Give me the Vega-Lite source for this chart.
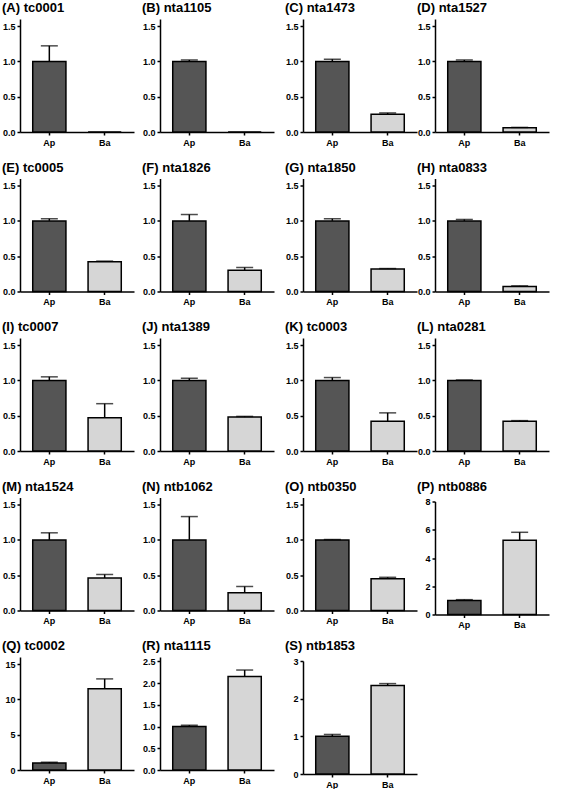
{
  "$schema": "https://vega.github.io/schema/vega-lite/v6.json",
  "padding": {"left": 2, "top": 2, "right": 2, "bottom": 0},
  "background": "white",
  "spacing": 8,
  "config": {
    "view": {"stroke": null},
    "font": "Liberation Sans",
    "title": {"font": "Liberation Sans", "fontSize": 13, "fontWeight": "bold", "anchor": "start", "frame": "bounds", "offset": 0, "color": "black"},
    "axis": {"domainColor": "black", "domainWidth": 1.5, "tickColor": "black", "tickWidth": 1.5, "tickSize": 3, "labelFont": "Liberation Sans", "labelFontWeight": "bold", "labelFontSize": 9, "labelColor": "black", "grid": false, "labelPadding": 2, "labelOverlap": false, "labelFlush": false},
    "axisX": {"labelAngle": 0, "labelPadding": 3},
    "axisY": {"minExtent": 18, "maxExtent": 18, "labelOverlap": false, "tickCount": 20},
    "scale": {"bandPaddingInner": 0.4, "bandPaddingOuter": 0.23},
    "bar": {"stroke": "black", "strokeWidth": 1.5},
    "rule": {"color": "black", "strokeWidth": 1.5},
    "tick": {"color": "black", "thickness": 1.5, "size": 17}
  },
  "hconcat": [
    {"spacing": 14.5, "vconcat": [
      {"title": "(A) tc0001", "width": 114, "height": 113,
       "data": {"values": [{"group": "Ap", "value": 1.0, "upper": 1.22}, {"group": "Ba", "value": 0, "upper": null}]},
       "encoding": {"x": {"field": "group", "type": "nominal", "title": null, "sort": null}},
       "layer": [
         {"mark": "bar", "encoding": {"y": {"field": "value", "type": "quantitative", "title": null, "scale": {"domain": [0, 1.5]}, "axis": {"values": [0, 0.5, 1, 1.5], "format": ".1f", "tickCount": 20}}, "color": {"field": "group", "type": "nominal", "scale": {"domain": ["Ap", "Ba"], "range": ["#555555", "#d6d6d6"]}, "legend": null}}},
         {"transform": [{"filter": "isValid(datum.upper)"}], "mark": "rule", "encoding": {"y": {"field": "value", "type": "quantitative", "title": null}, "y2": {"field": "upper"}}},
         {"transform": [{"filter": "isValid(datum.upper)"}], "mark": "tick", "encoding": {"y": {"field": "upper", "type": "quantitative", "title": null}}}
       ]},
      {"title": "(E) tc0005", "width": 114, "height": 113,
       "data": {"values": [{"group": "Ap", "value": 1.0, "upper": 1.03}, {"group": "Ba", "value": 0.42, "upper": 0.43}]},
       "encoding": {"x": {"field": "group", "type": "nominal", "title": null, "sort": null}},
       "layer": [
         {"mark": "bar", "encoding": {"y": {"field": "value", "type": "quantitative", "title": null, "scale": {"domain": [0, 1.5]}, "axis": {"values": [0, 0.5, 1, 1.5], "format": ".1f", "tickCount": 20}}, "color": {"field": "group", "type": "nominal", "scale": {"domain": ["Ap", "Ba"], "range": ["#555555", "#d6d6d6"]}, "legend": null}}},
         {"transform": [{"filter": "isValid(datum.upper)"}], "mark": "rule", "encoding": {"y": {"field": "value", "type": "quantitative", "title": null}, "y2": {"field": "upper"}}},
         {"transform": [{"filter": "isValid(datum.upper)"}], "mark": "tick", "encoding": {"y": {"field": "upper", "type": "quantitative", "title": null}}}
       ]},
      {"title": "(I) tc0007", "width": 114, "height": 113,
       "data": {"values": [{"group": "Ap", "value": 1.0, "upper": 1.05}, {"group": "Ba", "value": 0.47, "upper": 0.67}]},
       "encoding": {"x": {"field": "group", "type": "nominal", "title": null, "sort": null}},
       "layer": [
         {"mark": "bar", "encoding": {"y": {"field": "value", "type": "quantitative", "title": null, "scale": {"domain": [0, 1.5]}, "axis": {"values": [0, 0.5, 1, 1.5], "format": ".1f", "tickCount": 20}}, "color": {"field": "group", "type": "nominal", "scale": {"domain": ["Ap", "Ba"], "range": ["#555555", "#d6d6d6"]}, "legend": null}}},
         {"transform": [{"filter": "isValid(datum.upper)"}], "mark": "rule", "encoding": {"y": {"field": "value", "type": "quantitative", "title": null}, "y2": {"field": "upper"}}},
         {"transform": [{"filter": "isValid(datum.upper)"}], "mark": "tick", "encoding": {"y": {"field": "upper", "type": "quantitative", "title": null}}}
       ]},
      {"title": "(M) nta1524", "width": 114, "height": 113,
       "data": {"values": [{"group": "Ap", "value": 1.0, "upper": 1.10}, {"group": "Ba", "value": 0.46, "upper": 0.51}]},
       "encoding": {"x": {"field": "group", "type": "nominal", "title": null, "sort": null}},
       "layer": [
         {"mark": "bar", "encoding": {"y": {"field": "value", "type": "quantitative", "title": null, "scale": {"domain": [0, 1.5]}, "axis": {"values": [0, 0.5, 1, 1.5], "format": ".1f", "tickCount": 20}}, "color": {"field": "group", "type": "nominal", "scale": {"domain": ["Ap", "Ba"], "range": ["#555555", "#d6d6d6"]}, "legend": null}}},
         {"transform": [{"filter": "isValid(datum.upper)"}], "mark": "rule", "encoding": {"y": {"field": "value", "type": "quantitative", "title": null}, "y2": {"field": "upper"}}},
         {"transform": [{"filter": "isValid(datum.upper)"}], "mark": "tick", "encoding": {"y": {"field": "upper", "type": "quantitative", "title": null}}}
       ]},
      {"title": "(Q) tc0002", "width": 114, "height": 113,
       "data": {"values": [{"group": "Ap", "value": 1.0, "upper": 1.1}, {"group": "Ba", "value": 11.5, "upper": 12.9}]},
       "encoding": {"x": {"field": "group", "type": "nominal", "title": null, "sort": null}},
       "layer": [
         {"mark": "bar", "encoding": {"y": {"field": "value", "type": "quantitative", "title": null, "scale": {"domain": [0, 15]}, "axis": {"values": [0, 5, 10, 15], "format": "d", "tickCount": 20}}, "color": {"field": "group", "type": "nominal", "scale": {"domain": ["Ap", "Ba"], "range": ["#555555", "#d6d6d6"]}, "legend": null}}},
         {"transform": [{"filter": "isValid(datum.upper)"}], "mark": "rule", "encoding": {"y": {"field": "value", "type": "quantitative", "title": null}, "y2": {"field": "upper"}}},
         {"transform": [{"filter": "isValid(datum.upper)"}], "mark": "tick", "encoding": {"y": {"field": "upper", "type": "quantitative", "title": null}}}
       ]}
    ]},
    {"spacing": 11, "hconcat": [
      {"spacing": 14.5, "vconcat": [
        {"title": "(B) nta1105", "width": 114, "height": 113,
         "data": {"values": [{"group": "Ap", "value": 1.0, "upper": 1.02}, {"group": "Ba", "value": 0, "upper": null}]},
         "encoding": {"x": {"field": "group", "type": "nominal", "title": null, "sort": null}},
         "layer": [
           {"mark": "bar", "encoding": {"y": {"field": "value", "type": "quantitative", "title": null, "scale": {"domain": [0, 1.5]}, "axis": {"values": [0, 0.5, 1, 1.5], "format": ".1f", "tickCount": 20}}, "color": {"field": "group", "type": "nominal", "scale": {"domain": ["Ap", "Ba"], "range": ["#555555", "#d6d6d6"]}, "legend": null}}},
           {"transform": [{"filter": "isValid(datum.upper)"}], "mark": "rule", "encoding": {"y": {"field": "value", "type": "quantitative", "title": null}, "y2": {"field": "upper"}}},
           {"transform": [{"filter": "isValid(datum.upper)"}], "mark": "tick", "encoding": {"y": {"field": "upper", "type": "quantitative", "title": null}}}
         ]},
        {"title": "(F) nta1826", "width": 114, "height": 113,
         "data": {"values": [{"group": "Ap", "value": 1.0, "upper": 1.09}, {"group": "Ba", "value": 0.30, "upper": 0.34}]},
         "encoding": {"x": {"field": "group", "type": "nominal", "title": null, "sort": null}},
         "layer": [
           {"mark": "bar", "encoding": {"y": {"field": "value", "type": "quantitative", "title": null, "scale": {"domain": [0, 1.5]}, "axis": {"values": [0, 0.5, 1, 1.5], "format": ".1f", "tickCount": 20}}, "color": {"field": "group", "type": "nominal", "scale": {"domain": ["Ap", "Ba"], "range": ["#555555", "#d6d6d6"]}, "legend": null}}},
           {"transform": [{"filter": "isValid(datum.upper)"}], "mark": "rule", "encoding": {"y": {"field": "value", "type": "quantitative", "title": null}, "y2": {"field": "upper"}}},
           {"transform": [{"filter": "isValid(datum.upper)"}], "mark": "tick", "encoding": {"y": {"field": "upper", "type": "quantitative", "title": null}}}
         ]},
        {"title": "(J) nta1389", "width": 114, "height": 113,
         "data": {"values": [{"group": "Ap", "value": 1.0, "upper": 1.03}, {"group": "Ba", "value": 0.48, "upper": 0.49}]},
         "encoding": {"x": {"field": "group", "type": "nominal", "title": null, "sort": null}},
         "layer": [
           {"mark": "bar", "encoding": {"y": {"field": "value", "type": "quantitative", "title": null, "scale": {"domain": [0, 1.5]}, "axis": {"values": [0, 0.5, 1, 1.5], "format": ".1f", "tickCount": 20}}, "color": {"field": "group", "type": "nominal", "scale": {"domain": ["Ap", "Ba"], "range": ["#555555", "#d6d6d6"]}, "legend": null}}},
           {"transform": [{"filter": "isValid(datum.upper)"}], "mark": "rule", "encoding": {"y": {"field": "value", "type": "quantitative", "title": null}, "y2": {"field": "upper"}}},
           {"transform": [{"filter": "isValid(datum.upper)"}], "mark": "tick", "encoding": {"y": {"field": "upper", "type": "quantitative", "title": null}}}
         ]},
        {"title": "(N) ntb1062", "width": 114, "height": 113,
         "data": {"values": [{"group": "Ap", "value": 1.0, "upper": 1.33}, {"group": "Ba", "value": 0.25, "upper": 0.34}]},
         "encoding": {"x": {"field": "group", "type": "nominal", "title": null, "sort": null}},
         "layer": [
           {"mark": "bar", "encoding": {"y": {"field": "value", "type": "quantitative", "title": null, "scale": {"domain": [0, 1.5]}, "axis": {"values": [0, 0.5, 1, 1.5], "format": ".1f", "tickCount": 20}}, "color": {"field": "group", "type": "nominal", "scale": {"domain": ["Ap", "Ba"], "range": ["#555555", "#d6d6d6"]}, "legend": null}}},
           {"transform": [{"filter": "isValid(datum.upper)"}], "mark": "rule", "encoding": {"y": {"field": "value", "type": "quantitative", "title": null}, "y2": {"field": "upper"}}},
           {"transform": [{"filter": "isValid(datum.upper)"}], "mark": "tick", "encoding": {"y": {"field": "upper", "type": "quantitative", "title": null}}}
         ]},
        {"title": "(R) nta1115", "width": 114, "height": 113,
         "data": {"values": [{"group": "Ap", "value": 1.0, "upper": 1.03}, {"group": "Ba", "value": 2.15, "upper": 2.3}]},
         "encoding": {"x": {"field": "group", "type": "nominal", "title": null, "sort": null}},
         "layer": [
           {"mark": "bar", "encoding": {"y": {"field": "value", "type": "quantitative", "title": null, "scale": {"domain": [0, 2.5]}, "axis": {"values": [0, 0.5, 1, 1.5, 2, 2.5], "format": ".1f", "tickCount": 20}}, "color": {"field": "group", "type": "nominal", "scale": {"domain": ["Ap", "Ba"], "range": ["#555555", "#d6d6d6"]}, "legend": null}}},
           {"transform": [{"filter": "isValid(datum.upper)"}], "mark": "rule", "encoding": {"y": {"field": "value", "type": "quantitative", "title": null}, "y2": {"field": "upper"}}},
           {"transform": [{"filter": "isValid(datum.upper)"}], "mark": "tick", "encoding": {"y": {"field": "upper", "type": "quantitative", "title": null}}}
         ]}
      ]},
      {"spacing": 0, "hconcat": [
        {"spacing": 14.5, "vconcat": [
          {"title": "(C) nta1473", "width": 114, "height": 113,
           "data": {"values": [{"group": "Ap", "value": 1.0, "upper": 1.03}, {"group": "Ba", "value": 0.25, "upper": 0.27}]},
           "encoding": {"x": {"field": "group", "type": "nominal", "title": null, "sort": null}},
           "layer": [
             {"mark": "bar", "encoding": {"y": {"field": "value", "type": "quantitative", "title": null, "scale": {"domain": [0, 1.5]}, "axis": {"values": [0, 0.5, 1, 1.5], "format": ".1f", "tickCount": 20}}, "color": {"field": "group", "type": "nominal", "scale": {"domain": ["Ap", "Ba"], "range": ["#555555", "#d6d6d6"]}, "legend": null}}},
             {"transform": [{"filter": "isValid(datum.upper)"}], "mark": "rule", "encoding": {"y": {"field": "value", "type": "quantitative", "title": null}, "y2": {"field": "upper"}}},
             {"transform": [{"filter": "isValid(datum.upper)"}], "mark": "tick", "encoding": {"y": {"field": "upper", "type": "quantitative", "title": null}}}
           ]},
          {"title": "(G) nta1850", "width": 114, "height": 113,
           "data": {"values": [{"group": "Ap", "value": 1.0, "upper": 1.03}, {"group": "Ba", "value": 0.32, "upper": 0.325}]},
           "encoding": {"x": {"field": "group", "type": "nominal", "title": null, "sort": null}},
           "layer": [
             {"mark": "bar", "encoding": {"y": {"field": "value", "type": "quantitative", "title": null, "scale": {"domain": [0, 1.5]}, "axis": {"values": [0, 0.5, 1, 1.5], "format": ".1f", "tickCount": 20}}, "color": {"field": "group", "type": "nominal", "scale": {"domain": ["Ap", "Ba"], "range": ["#555555", "#d6d6d6"]}, "legend": null}}},
             {"transform": [{"filter": "isValid(datum.upper)"}], "mark": "rule", "encoding": {"y": {"field": "value", "type": "quantitative", "title": null}, "y2": {"field": "upper"}}},
             {"transform": [{"filter": "isValid(datum.upper)"}], "mark": "tick", "encoding": {"y": {"field": "upper", "type": "quantitative", "title": null}}}
           ]},
          {"title": "(K) tc0003", "width": 114, "height": 113,
           "data": {"values": [{"group": "Ap", "value": 1.0, "upper": 1.04}, {"group": "Ba", "value": 0.42, "upper": 0.54}]},
           "encoding": {"x": {"field": "group", "type": "nominal", "title": null, "sort": null}},
           "layer": [
             {"mark": "bar", "encoding": {"y": {"field": "value", "type": "quantitative", "title": null, "scale": {"domain": [0, 1.5]}, "axis": {"values": [0, 0.5, 1, 1.5], "format": ".1f", "tickCount": 20}}, "color": {"field": "group", "type": "nominal", "scale": {"domain": ["Ap", "Ba"], "range": ["#555555", "#d6d6d6"]}, "legend": null}}},
             {"transform": [{"filter": "isValid(datum.upper)"}], "mark": "rule", "encoding": {"y": {"field": "value", "type": "quantitative", "title": null}, "y2": {"field": "upper"}}},
             {"transform": [{"filter": "isValid(datum.upper)"}], "mark": "tick", "encoding": {"y": {"field": "upper", "type": "quantitative", "title": null}}}
           ]},
          {"title": "(O) ntb0350", "width": 114, "height": 113,
           "data": {"values": [{"group": "Ap", "value": 1.0, "upper": 1.005}, {"group": "Ba", "value": 0.45, "upper": 0.47}]},
           "encoding": {"x": {"field": "group", "type": "nominal", "title": null, "sort": null}},
           "layer": [
             {"mark": "bar", "encoding": {"y": {"field": "value", "type": "quantitative", "title": null, "scale": {"domain": [0, 1.5]}, "axis": {"values": [0, 0.5, 1, 1.5], "format": ".1f", "tickCount": 20}}, "color": {"field": "group", "type": "nominal", "scale": {"domain": ["Ap", "Ba"], "range": ["#555555", "#d6d6d6"]}, "legend": null}}},
             {"transform": [{"filter": "isValid(datum.upper)"}], "mark": "rule", "encoding": {"y": {"field": "value", "type": "quantitative", "title": null}, "y2": {"field": "upper"}}},
             {"transform": [{"filter": "isValid(datum.upper)"}], "mark": "tick", "encoding": {"y": {"field": "upper", "type": "quantitative", "title": null}}}
           ]},
          {"title": "(S) ntb1853", "width": 114, "height": 113,
           "data": {"values": [{"group": "Ap", "value": 1.0, "upper": 1.05}, {"group": "Ba", "value": 2.35, "upper": 2.4}]},
           "encoding": {"x": {"field": "group", "type": "nominal", "title": null, "sort": null}},
           "layer": [
             {"mark": "bar", "encoding": {"y": {"field": "value", "type": "quantitative", "title": null, "scale": {"domain": [0, 3]}, "axis": {"values": [0, 1, 2, 3], "format": "d", "tickCount": 20}}, "color": {"field": "group", "type": "nominal", "scale": {"domain": ["Ap", "Ba"], "range": ["#555555", "#d6d6d6"]}, "legend": null}}},
             {"transform": [{"filter": "isValid(datum.upper)"}], "mark": "rule", "encoding": {"y": {"field": "value", "type": "quantitative", "title": null}, "y2": {"field": "upper"}}},
             {"transform": [{"filter": "isValid(datum.upper)"}], "mark": "tick", "encoding": {"y": {"field": "upper", "type": "quantitative", "title": null}}}
           ]}
        ]},
        {"spacing": 14.5, "vconcat": [
          {"title": "(D) nta1527", "width": 114, "height": 113,
           "data": {"values": [{"group": "Ap", "value": 1.0, "upper": 1.02}, {"group": "Ba", "value": 0.06, "upper": 0.065}]},
           "encoding": {"x": {"field": "group", "type": "nominal", "title": null, "sort": null}},
           "layer": [
             {"mark": "bar", "encoding": {"y": {"field": "value", "type": "quantitative", "title": null, "scale": {"domain": [0, 1.5]}, "axis": {"values": [0, 0.5, 1, 1.5], "format": ".1f", "tickCount": 20}}, "color": {"field": "group", "type": "nominal", "scale": {"domain": ["Ap", "Ba"], "range": ["#555555", "#d6d6d6"]}, "legend": null}}},
             {"transform": [{"filter": "isValid(datum.upper)"}], "mark": "rule", "encoding": {"y": {"field": "value", "type": "quantitative", "title": null}, "y2": {"field": "upper"}}},
             {"transform": [{"filter": "isValid(datum.upper)"}], "mark": "tick", "encoding": {"y": {"field": "upper", "type": "quantitative", "title": null}}}
           ]},
          {"title": "(H) nta0833", "width": 114, "height": 113,
           "data": {"values": [{"group": "Ap", "value": 1.0, "upper": 1.02}, {"group": "Ba", "value": 0.07, "upper": 0.08}]},
           "encoding": {"x": {"field": "group", "type": "nominal", "title": null, "sort": null}},
           "layer": [
             {"mark": "bar", "encoding": {"y": {"field": "value", "type": "quantitative", "title": null, "scale": {"domain": [0, 1.5]}, "axis": {"values": [0, 0.5, 1, 1.5], "format": ".1f", "tickCount": 20}}, "color": {"field": "group", "type": "nominal", "scale": {"domain": ["Ap", "Ba"], "range": ["#555555", "#d6d6d6"]}, "legend": null}}},
             {"transform": [{"filter": "isValid(datum.upper)"}], "mark": "rule", "encoding": {"y": {"field": "value", "type": "quantitative", "title": null}, "y2": {"field": "upper"}}},
             {"transform": [{"filter": "isValid(datum.upper)"}], "mark": "tick", "encoding": {"y": {"field": "upper", "type": "quantitative", "title": null}}}
           ]},
          {"title": "(L) nta0281", "width": 114, "height": 113,
           "data": {"values": [{"group": "Ap", "value": 1.0, "upper": 1.005}, {"group": "Ba", "value": 0.42, "upper": 0.43}]},
           "encoding": {"x": {"field": "group", "type": "nominal", "title": null, "sort": null}},
           "layer": [
             {"mark": "bar", "encoding": {"y": {"field": "value", "type": "quantitative", "title": null, "scale": {"domain": [0, 1.5]}, "axis": {"values": [0, 0.5, 1, 1.5], "format": ".1f", "tickCount": 20}}, "color": {"field": "group", "type": "nominal", "scale": {"domain": ["Ap", "Ba"], "range": ["#555555", "#d6d6d6"]}, "legend": null}}},
             {"transform": [{"filter": "isValid(datum.upper)"}], "mark": "rule", "encoding": {"y": {"field": "value", "type": "quantitative", "title": null}, "y2": {"field": "upper"}}},
             {"transform": [{"filter": "isValid(datum.upper)"}], "mark": "tick", "encoding": {"y": {"field": "upper", "type": "quantitative", "title": null}}}
           ]},
          {"title": "(P) ntb0886", "width": 114, "height": 113,
           "data": {"values": [{"group": "Ap", "value": 1.0, "upper": 1.05}, {"group": "Ba", "value": 5.25, "upper": 5.82}]},
           "encoding": {"x": {"field": "group", "type": "nominal", "title": null, "sort": null}},
           "layer": [
             {"mark": "bar", "encoding": {"y": {"field": "value", "type": "quantitative", "title": null, "scale": {"domain": [0, 8]}, "axis": {"values": [0, 2, 4, 6, 8], "format": "d", "tickCount": 20}}, "color": {"field": "group", "type": "nominal", "scale": {"domain": ["Ap", "Ba"], "range": ["#555555", "#d6d6d6"]}, "legend": null}}},
             {"transform": [{"filter": "isValid(datum.upper)"}], "mark": "rule", "encoding": {"y": {"field": "value", "type": "quantitative", "title": null}, "y2": {"field": "upper"}}},
             {"transform": [{"filter": "isValid(datum.upper)"}], "mark": "tick", "encoding": {"y": {"field": "upper", "type": "quantitative", "title": null}}}
           ]}
        ]}
      ]}
    ]}
  ]
}
